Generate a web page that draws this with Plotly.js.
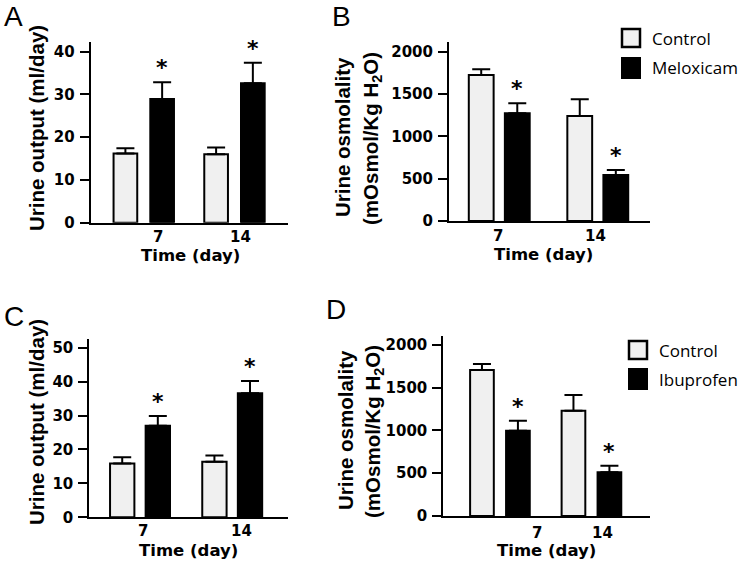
<!DOCTYPE html>
<html><head><meta charset="utf-8">
<script src="https://cdn.plot.ly/plotly-3.0.1.min.js"></script>
<style>html,body{margin:0;padding:0;background:#fff}#chart{width:749px;height:564px}</style>
</head><body><div id="chart"></div>
<script>
// ---------- data ----------
const days = ["7", "14"];
const tickLabels = ["7", "14"];
const seriesNames = ["Control", "Meloxicam", "Ibuprofen"];
const panelLabels = ["A", "B", "C", "D"];
const outputTitle = "Urine output (ml/day)";
const osmoTitle1 = "Urine osmolality";
const osmoTitle2 = "(mOsmol/Kg H<sub>2</sub>O)";
const xTitle = "Time (day)";

// Panel A: urine output, meloxicam
const aControl = [16.2, 16.0];
const aControlErr = [1.2, 1.6];
const aMeloxicam = [28.9, 32.6];
const aMeloxicamErr = [3.9, 4.8];
// Panel B: urine osmolality, meloxicam
const bControl = [1724, 1240];
const bControlErr = [67, 197];
const bMeloxicam = [1271, 543];
const bMeloxicamErr = [119, 59];
// Panel C: urine output, ibuprofen
const cControl = [15.9, 16.4];
const cControlErr = [1.8, 1.8];
const cIbuprofen = [27.0, 36.6];
const cIbuprofenErr = [2.9, 3.6];
// Panel D: urine osmolality, ibuprofen
const dControl = [1707, 1232];
const dControlErr = [71, 183];
const dIbuprofen = [998, 511];
const dIbuprofenErr = [117, 77];
// significance (*) of treatment vs control at each day
const aSig = [true, true];
const bSig = [true, true];
const cSig = [true, true];
const dSig = [true, true];

// ---------- helpers ----------
const W = 749, H = 564;
const px = v => v / W;
const py = v => 1 - v / H;
const CTRL_FILL = "#f0f0f0";
const tickFont = {family: "DejaVu Sans", size: 15, color: "#000", weight: "bold"};
const titleFont = {family: "Liberation Sans", size: 20.5, color: "#000", weight: "bold"};
const xTitleFont = {family: "DejaVu Sans", size: 16.5, color: "#000", weight: "bold"};
const starFont = {family: "DejaVu Sans", size: 22, color: "#000", weight: "bold"};

function barPair(xa, ya, ctrl, ctrlErr, trt, trtErr, trtName, geo) {
  const common = {type: "bar", x: days, xaxis: xa, yaxis: ya, width: geo.b, showlegend: false, hoverinfo: "y"};
  return [
    Object.assign({}, common, {
      name: seriesNames[0], y: ctrl, offset: -(geo.g + geo.b),
      marker: {color: CTRL_FILL, line: {color: "#000", width: 2}},
      error_y: {type: "data", symmetric: false, array: ctrlErr, arrayminus: ctrl.map(() => 0),
                color: "#000", thickness: 2, width: 9}
    }),
    Object.assign({}, common, {
      name: trtName, y: trt, offset: geo.g,
      marker: {color: "#000", line: {color: "#000", width: 2}},
      error_y: {type: "data", symmetric: false, array: trtErr, arrayminus: trt.map(() => 0),
                color: "#000", thickness: 2, width: 9}
    })
  ];
}

// bar geometry per panel (category units): b = bar width, g = half gap
const geoA = {b: 0.261, g: 0.072, unit: 90.7};
const geoB = {b: 0.252, g: 0.057, unit: 98.5};
const geoC = {b: 0.264, g: 0.061, unit: 92.2};
const geoD = {b: 0.259, g: 0.067, unit: 91.5};

const data = [].concat(
  barPair("x", "y", aControl, aControlErr, aMeloxicam, aMeloxicamErr, seriesNames[1], geoA),
  barPair("x2", "y2", bControl, bControlErr, bMeloxicam, bMeloxicamErr, seriesNames[1], geoB),
  barPair("x3", "y3", cControl, cControlErr, cIbuprofen, cIbuprofenErr, seriesNames[2], geoC),
  barPair("x4", "y4", dControl, dControlErr, dIbuprofen, dIbuprofenErr, seriesNames[2], geoD)
);

function xAxis(domain, range, anchor) {
  return {domain: domain, anchor: anchor, type: "category", range: range,
          showline: true, linecolor: "#000", linewidth: 2, ticks: "", showticklabels: false,
          showgrid: false, zeroline: false, fixedrange: true};
}
function yAxis(domain, range, tickvals, anchor) {
  return {domain: domain, anchor: anchor, range: range, tickvals: tickvals,
          ticktext: tickvals.map(String),
          showline: true, linecolor: "#000", linewidth: 2, ticks: "outside", ticklen: 9,
          tickwidth: 2, tickcolor: "#000", tickfont: tickFont, ticklabelstandoff: 2,
          showgrid: false, zeroline: false, fixedrange: true};
}

const annotations = [];
const shapes = [];

function panelText(xref, yref, sig, trtVals, trtErr, geo, shifts, yShift) {
  days.forEach((d, i) => {
    // x tick label (category index i)
    annotations.push({xref: xref, yref: yref + " domain", x: i, y: 0, text: tickLabels[i],
      showarrow: false, xanchor: "center", yanchor: "middle", xshift: shifts[i], yshift: yShift,
      font: tickFont});
    if (sig[i]) {
      annotations.push({xref: xref, yref: yref, x: i, y: trtVals[i] + trtErr[i], text: "*",
        showarrow: false, xanchor: "center", yanchor: "bottom",
        xshift: (geo.g + geo.b / 2) * geo.unit, yshift: 0, font: starFont});
    }
  });
}
panelText("x", "y", aSig, aMeloxicam, aMeloxicamErr, geoA, [14, 6], -14);
panelText("x2", "y2", bSig, bMeloxicam, bMeloxicamErr, geoB, [-1, -2], -15);
panelText("x3", "y3", cSig, cIbuprofen, cIbuprofenErr, geoC, [3, 9], -14);
panelText("x4", "y4", dSig, dIbuprofen, dIbuprofenErr, geoD, [37, 11], -17);

function paperText(text, x, y, font, angle) {
  annotations.push({xref: "paper", yref: "paper", x: px(x), y: py(y), text: text, showarrow: false,
    xanchor: "center", yanchor: "middle", font: font, textangle: angle || 0});
}
// panel letters
const letterFont = {family: "Liberation Sans", size: 28, color: "#000"};
paperText(panelLabels[0], 14, 16, letterFont);
paperText(panelLabels[1], 341, 16, letterFont);
paperText(panelLabels[2], 14, 316, letterFont);
paperText(panelLabels[3], 336, 309, letterFont);
// x titles
paperText(xTitle, 190, 255, xTitleFont);
paperText(xTitle, 543, 254, xTitleFont);
paperText(xTitle, 188, 550, xTitleFont);
paperText(xTitle, 546, 550, xTitleFont);
// y titles
paperText(outputTitle, 36, 128, titleFont, -90);
paperText(outputTitle, 36, 422, titleFont, -90);
paperText(osmoTitle1, 342, 137, titleFont, -90);
paperText(osmoTitle2, 372, 139, titleFont, -90);
paperText(osmoTitle1, 345, 430, titleFont, -90);
paperText(osmoTitle2, 374, 432, titleFont, -90);

// legends (boxes + labels)
const legFont = {family: "Open Sans", size: 17, color: "#000"};
function legend(x0, yC, yT, trtName, textX) {
  shapes.push({type: "rect", xref: "paper", yref: "paper", x0: px(x0), x1: px(x0 + 18),
    y0: py(yC + 9), y1: py(yC - 9), fillcolor: CTRL_FILL, line: {color: "#000", width: 2.5}});
  shapes.push({type: "rect", xref: "paper", yref: "paper", x0: px(x0), x1: px(x0 + 18),
    y0: py(yT + 10), y1: py(yT - 10), fillcolor: "#000", line: {color: "#000", width: 2}});
  annotations.push({xref: "paper", yref: "paper", x: px(textX), y: py(yC), text: seriesNames[0],
    showarrow: false, xanchor: "left", yanchor: "middle", font: legFont});
  annotations.push({xref: "paper", yref: "paper", x: px(textX), y: py(yT), text: trtName,
    showarrow: false, xanchor: "left", yanchor: "middle", font: legFont});
}
legend(622, 38, 68, seriesNames[1], 650);
legend(629, 350, 379, seriesNames[2], 657);

const layout = {
  width: W, height: H, margin: {l: 0, r: 0, t: 0, b: 0},
  paper_bgcolor: "#fff", plot_bgcolor: "rgba(0,0,0,0)",
  barmode: "overlay", showlegend: false,
  xaxis: xAxis([px(90.7), px(288)], [-0.585, 1.59], "y"),
  yaxis: yAxis([py(222.7), py(41.7)], [0, 42.3], [0, 10, 20, 30, 40], "x"),
  xaxis2: xAxis([px(449), px(650)], [-0.51, 1.53], "y2"),
  yaxis2: yAxis([py(221), py(41.7)], [0, 2117], [0, 500, 1000, 1500, 2000], "x2"),
  xaxis3: xAxis([px(89.3), px(288)], [-0.55, 1.605], "y3"),
  yaxis3: yAxis([py(517.3), py(339.3)], [0, 52.5], [0, 10, 20, 30, 40, 50], "x3"),
  xaxis4: xAxis([px(443.3), px(650)], [-0.619, 1.64], "y4"),
  yaxis4: yAxis([py(516), py(336)], [0, 2105], [0, 500, 1000, 1500, 2000], "x4"),
  annotations: annotations, shapes: shapes
};
Plotly.newPlot("chart", data, layout, {displayModeBar: false, staticPlot: true});
</script></body></html>
